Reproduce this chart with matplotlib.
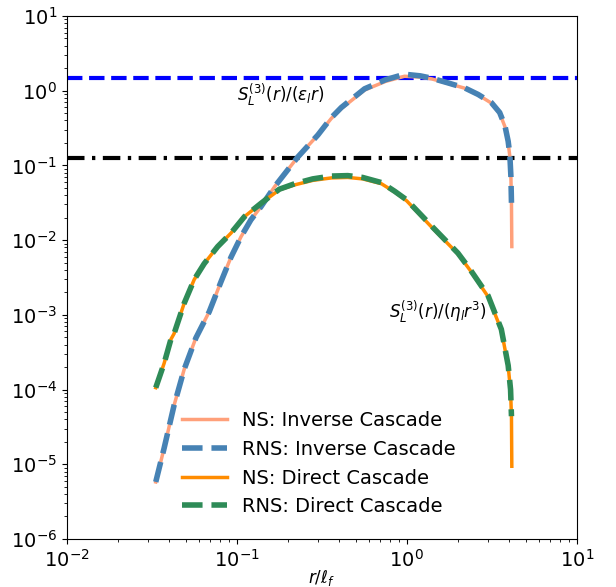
import numpy as np
import matplotlib
matplotlib.use('Agg')
import matplotlib.pyplot as plt

# r / l_f and S_L^(3) compensated, inverse cascade range
r_inv_ns = [0.0334, 0.0374, 0.0428, 0.0491, 0.0575, 0.0689, 0.0808, 0.0925, 0.106, 0.121,
            0.139, 0.167, 0.229, 0.30, 0.36, 0.412, 0.565, 0.75, 0.97, 1.2, 1.40, 1.75,
            2.19, 2.63, 3.15, 3.52, 3.78, 3.95, 4.04, 4.10, 4.13, 4.15]
s_inv_ns = [5.8e-6, 1.64e-5, 6.15e-5, 1.87e-4, 4.9e-4, 1.1e-3, 2.77e-3, 5.9e-3, 0.0111, 0.0186,
            0.0281, 0.0519, 0.130, 0.255, 0.425, 0.575, 1.02, 1.33, 1.56, 1.52, 1.44, 1.25,
            1.08, 0.88, 0.68, 0.50, 0.33, 0.20, 0.132, 0.068, 0.0316, 0.0082]

r_inv_rns = [0.0334, 0.0374, 0.0428, 0.0491, 0.0575, 0.0689, 0.0808, 0.0925, 0.106, 0.121,
             0.139, 0.167, 0.229, 0.30, 0.36, 0.412, 0.565, 0.75, 0.97, 1.2, 1.40, 1.75,
             2.19, 2.63, 3.15, 3.52, 3.78, 3.95, 4.04, 4.10, 4.13]
s_inv_rns = [5.8e-6, 1.64e-5, 6.15e-5, 1.87e-4, 4.9e-4, 1.1e-3, 2.77e-3, 5.9e-3, 0.0111, 0.0186,
             0.0281, 0.0519, 0.130, 0.255, 0.435, 0.595, 1.06, 1.40, 1.66, 1.58, 1.47, 1.27,
             1.09, 0.89, 0.69, 0.51, 0.34, 0.21, 0.138, 0.07, 0.0316]

# direct cascade range
r_dir_ns = [0.0334, 0.0374, 0.041, 0.0428, 0.0491, 0.0562, 0.0644, 0.0773, 0.0925, 0.111,
            0.139, 0.178, 0.22, 0.28, 0.36, 0.45, 0.55, 0.708, 0.85, 1.0, 1.43, 2.0,
            2.35, 3.01, 3.6, 3.95, 4.08, 4.13, 4.15]
s_dir_ns = [1.06e-4, 2.24e-4, 4.7e-4, 5.6e-4, 1.43e-3, 2.96e-3, 4.85e-3, 8.2e-3, 0.0124, 0.0206,
            0.0311, 0.0471, 0.055, 0.063, 0.068, 0.069, 0.066, 0.057, 0.044, 0.0335, 0.0142, 6.55e-3,
            4.0e-3, 1.75e-3, 6.26e-4, 2.06e-4, 9.7e-5, 4.3e-5, 9.4e-6]

r_dir_rns = [0.0334, 0.0374, 0.041, 0.0428, 0.0491, 0.0562, 0.0644, 0.0773, 0.0925, 0.111,
             0.139, 0.178, 0.22, 0.28, 0.36, 0.45, 0.55, 0.708, 0.85, 1.0, 1.43, 2.0,
             2.35, 3.01, 3.6, 3.95, 4.08, 4.13]
s_dir_rns = [1.06e-4, 2.24e-4, 4.7e-4, 5.6e-4, 1.43e-3, 2.96e-3, 4.85e-3, 8.2e-3, 0.0124, 0.0206,
             0.0311, 0.048, 0.057, 0.066, 0.072, 0.073, 0.069, 0.059, 0.045, 0.0345, 0.0147, 6.7e-3,
             4.1e-3, 1.8e-3, 6.4e-4, 2.1e-4, 1.0e-4, 4.4e-5]

inverse_const = 3 / 2
direct_const = 1 / 8

fig = plt.figure(figsize=(6.16, 5.87), dpi=100)
ax = fig.add_axes([0.1083, 0.0818, 0.828, 0.891])

ax.axhline(inverse_const, color='blue', ls='--', lw=3)
ax.axhline(direct_const, color='black', lw=3, dashes=(4.2, 1.8, 0.8, 1.8))

ax.plot(r_inv_ns, s_inv_ns, color='lightsalmon', lw=2.5, label='NS: Inverse Cascade')
ax.plot(r_inv_rns, s_inv_rns, color='steelblue', lw=4, ls='--', label='RNS: Inverse Cascade')
ax.plot(r_dir_ns, s_dir_ns, color='darkorange', lw=2.5, label='NS: Direct Cascade')
ax.plot(r_dir_rns, s_dir_rns, color='seagreen', lw=4, ls='--', label='RNS: Direct Cascade')

ax.text(0.0999, 0.876, r'$S_L^{(3)}(r)/(\varepsilon_l r)$', fontsize=12, ha='left', va='center')
ax.text(0.787, 1.12e-3, r'$S_L^{(3)}(r)/(\eta_l r^3)$', fontsize=12, ha='left', va='center')

ax.set_xscale('log')
ax.set_yscale('log')
ax.set_xlim(1e-2, 1e1)
ax.set_ylim(1e-6, 1e1)
ax.tick_params(labelsize=14)
ax.set_xlabel(r'$r/\ell_f$', fontsize=12, labelpad=-2)

ax.legend(loc='lower left', bbox_to_anchor=(0.192, 0.01), frameon=False, fontsize=14,
          handlelength=2.3)

fig.savefig('out.png', dpi=100)
